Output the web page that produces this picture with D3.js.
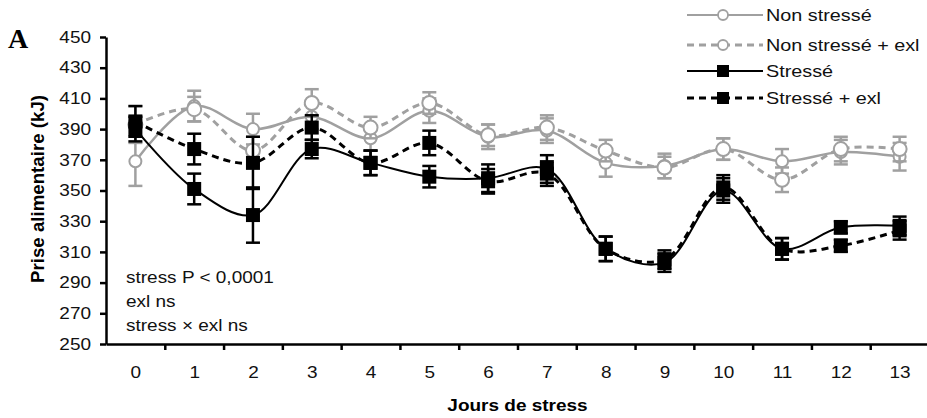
<!DOCTYPE html>
<html>
<head>
<meta charset="utf-8">
<script src="https://d3js.org/d3.v7.min.js"></script>
<style>
  body { margin: 0; background: #fff; }
  text { font-family: "Liberation Sans", Arial, sans-serif; }
  .axis path, .axis line { stroke: #000; stroke-width: 2.5; }
  .axis text { font-size: 16.5px; fill: #111; }
</style>
</head>
<body>
<script>
// ---- data ----
const days = [0,1,2,3,4,5,6,7,8,9,10,11,12,13];
const yTicks = [250,270,290,310,330,350,370,390,410,430,450];

const nonStresse      = [369,405,390,398,384,402,385,389,368,366,377,369,375,372];
const nonStresseErr   = [16,10,10,8,8,8,8,8,9,8,7,8,8,9];
const nonStresseExl   = [393,403,376,407,391,407,386,391,376,365,377,357,377,377];
const nonStresseExlErr= [12,8,9,9,7,7,7,8,7,7,7,8,8,8];
const stresse         = [390,351,334,377,368,359,358,364,312,303,350,312,326,327];
const stresseErr      = [8,10,18,6,8,7,9,9,8,6,8,7,4,6];
const stresseExl      = [395,377,368,391,368,381,356,361,312,305,352,312,314,324];
const stresseExlErr   = [10,10,17,8,8,8,8,8,8,6,8,7,4,6];

const stats = ['stress P < 0,0001', 'exl ns', 'stress \u00d7 exl ns'];

const series = [
  {name:'Non stressé',        vals:nonStresse,    err:nonStresseErr,    color:'#a0a0a0', dash:null,  mark:'circle'},
  {name:'Non stressé + exl',  vals:nonStresseExl, err:nonStresseExlErr, color:'#a0a0a0', dash:'7,5', mark:'circle'},
  {name:'Stressé',            vals:stresse,       err:stresseErr,       color:'#000',    dash:null,  mark:'square'},
  {name:'Stressé + exl',      vals:stresseExl,    err:stresseExlErr,    color:'#000',    dash:'7,5', mark:'square'}
];

const svg = d3.select('body').append('svg')
  .attr('width', 927).attr('height', 418);

const plotL = 106, plotR = 929, plotT = 37, plotB = 344;

let x = d3.scaleLinear().domain([-0.5, 13.5]).range([plotL, plotR]);
let y = d3.scaleLinear().domain([250, 450]).range([plotB, plotT]);

// axes
svg.append('g').attr('class','axis wide')
  .attr('transform', `translate(${plotL},0)`)
  .call(d3.axisLeft(y).tickValues(yTicks).tickSize(6).tickPadding(9).tickSizeOuter(0));

// x tick marks sit between categories
svg.append('g').attr('class','axis')
  .attr('transform', `translate(0,${plotB})`)
  .call(d3.axisBottom(x).tickValues(days.map(d => d + 0.5)).tickFormat('').tickSize(6).tickSizeOuter(0));

svg.append('g').attr('class','axis wide')
  .attr('transform', `translate(0,${plotB})`)
  .call(d3.axisBottom(x).tickValues(days).tickSize(0).tickPadding(22))
  .call(g => g.select('.domain').remove());

// axis titles
svg.append('text').attr('class', 'wide')
  .attr('x', (plotL + plotR) / 2).attr('y', 411)
  .attr('text-anchor', 'middle')
  .style('font-weight', 'bold').style('font-size', '16.5px')
  .text('Jours de stress');

svg.append('text')
  .attr('transform', 'translate(43.5,189) rotate(-90)')
  .attr('text-anchor', 'middle')
  .attr('textLength', 188).attr('lengthAdjust', 'spacingAndGlyphs')
  .style('font-weight', 'bold').style('font-size', '17.5px')
  .text('Prise alimentaire (kJ)');

svg.append('text')
  .attr('x', 8).attr('y', 48)
  .style('font-family', '"Liberation Serif", "Times New Roman", serif')
  .style('font-weight', 'bold').style('font-size', '28px')
  .text('A');

// statistics annotation
svg.selectAll('.stat').data(stats).join('text')
  .attr('class', 'stat wide')
  .attr('x', 126).attr('y', (d, i) => 282.5 + i * 24.3)
  .style('font-size', '16.5px').attr('fill', '#111')
  .text(d => d);

const line = d3.line()
  .x((d, i) => x(days[i]))
  .y(d => y(d))
  .curve(d3.curveCatmullRom.alpha(0.5));

function drawMarker(g, s, cx, cy, big) {
  if (s.mark === 'circle') {
    g.append('circle').attr('cx', cx).attr('cy', cy).attr('r', big ? 7 : 6)
      .attr('fill', '#fff').attr('stroke', s.color).attr('stroke-width', 2);
  } else {
    const w = 14;
    g.append('rect').attr('x', cx - w/2).attr('y', cy - w/2)
      .attr('width', w).attr('height', w).attr('fill', s.color);
  }
}

series.forEach(s => {
  const g = svg.append('g');
  g.append('path').datum(s.vals)
    .attr('d', line).attr('fill', 'none')
    .attr('stroke', s.color)
    .attr('stroke-width', s.dash ? 3 : (s.color === '#000' ? 2 : 2.5))
    .attr('stroke-dasharray', s.dash);
  s.vals.forEach((v, i) => {
    const cx = x(days[i]);
    const y0 = y(v - s.err[i]), y1 = y(v + s.err[i]);
    g.append('line').attr('x1', cx).attr('x2', cx).attr('y1', y0).attr('y2', y1)
      .attr('stroke', s.color).attr('stroke-width', 2.5);
    [y0, y1].forEach(yy => g.append('line')
      .attr('x1', cx - 7).attr('x2', cx + 7).attr('y1', yy).attr('y2', yy)
      .attr('stroke', s.color).attr('stroke-width', 2.5));
  });
  s.vals.forEach((v, i) => drawMarker(g, s, x(days[i]), y(v), !!s.dash));
});

// legend
const legY = [15, 45, 71, 98];
series.forEach((s, i) => {
  const g = svg.append('g');
  g.append('line').attr('x1', 687).attr('x2', 763).attr('y1', legY[i]).attr('y2', legY[i])
    .attr('stroke', s.color).attr('stroke-width', s.dash ? 3 : 2)
    .attr('stroke-dasharray', s.dash);
  if (s.mark === 'circle') {
    g.append('circle').attr('cx', 723).attr('cy', legY[i]).attr('r', 5)
      .attr('fill', '#fff').attr('stroke', s.color).attr('stroke-width', 1.8);
  } else {
    g.append('rect').attr('x', 717).attr('y', legY[i] - 6).attr('width', 12).attr('height', 12)
      .attr('fill', s.color);
  }
  g.append('text').attr('class', 'wide legend').attr('x', 766).attr('y', legY[i] + 6)
    .style('font-size', '16.5px').attr('fill', '#111')
    .text(s.name);
});

// the source figure's lettering is a bit wider than Arial, stretch it sideways
svg.selectAll('.wide text, text.wide').each(function() {
  const w = this.getComputedTextLength();
  const k = this.classList.contains('legend') ? 1.2 : 1.15;
  d3.select(this).attr('textLength', w * k).attr('lengthAdjust', 'spacingAndGlyphs');
});
</script>
</body>
</html>
